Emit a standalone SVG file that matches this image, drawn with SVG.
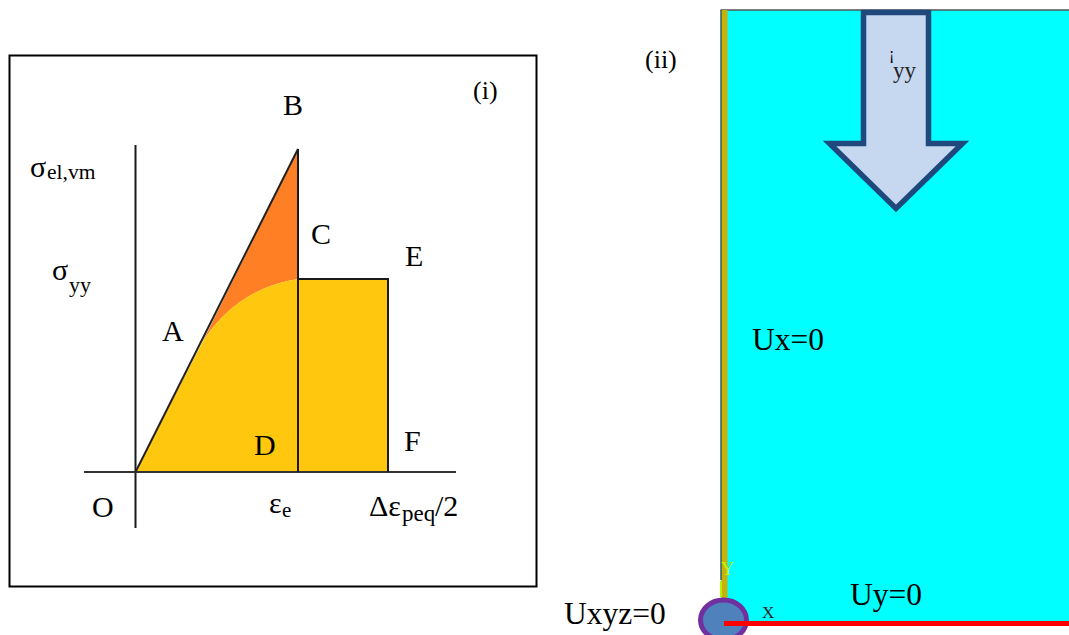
<svg xmlns="http://www.w3.org/2000/svg" width="1069" height="635" viewBox="0 0 1069 635">
<style>
text{font-family:"Liberation Serif","Times New Roman",serif;fill:#000}
.l{font-size:30px}
.n{font-size:26px}
.u{font-size:31.5px}
.a{stroke:#1a1a1a;stroke-width:2;fill:none}
</style>
<rect width="1069" height="635" fill="#fff"/>
<g id="panel-i">
<rect x="9.5" y="55.5" width="527" height="531" fill="#fff" stroke="#000" stroke-width="2"/>
<path d="M203 341L298 149V279Q238 288 203 341Z" fill="#ff7f24"/>
<path d="M135.500 472L203 341Q238 288 298 279H388V472Z" fill="#ffc80e"/>
</g>
<g id="connectors">
<line class="a" x1="135.500" y1="145" x2="135.500" y2="528"/>
<line x1="84" y1="472" x2="456" y2="472" stroke="#333" stroke-width="2"/>
<line x1="135.500" y1="472" x2="298" y2="149" stroke="#222" stroke-width="2"/>
<line class="a" x1="298" y1="149" x2="298" y2="472"/>
<path class="a" d="M298 279H388V472"/>
</g>
<g id="labels-i">
<text class="n" x="473" y="99">(i)</text>
<text class="l" x="283" y="115">B</text>
<text class="l" x="311" y="244">C</text>
<text class="l" x="405" y="266">E</text>
<text class="l" x="162" y="341">A</text>
<text class="l" x="254" y="455">D</text>
<text class="l" x="404" y="451">F</text>
<text class="l" x="92" y="517">O</text>
<text class="l" x="30" y="177">σ</text>
<text x="47" y="179" style="font-size:21.500px">el,vm</text>
<text class="l" x="52" y="280">σ</text>
<text x="69" y="292" style="font-size:22px">yy</text>
<text class="l" x="269" y="513">ε</text>
<text x="282" y="517" style="font-size:21px">e</text>
<text class="l" x="369" y="516">Δε</text>
<text x="402" y="521" style="font-size:23px">peq</text>
<text class="l" x="435" y="516">/2</text>
</g>
<g id="panel-ii">
<rect x="721" y="10" width="348" height="613" fill="#0ff"/>
<line x1="720.500" y1="10" x2="1069" y2="10" stroke="#555" stroke-width="1.500"/>
<rect x="721.500" y="10" width="6" height="590" fill="#c8b20a"/>
<line x1="721" y1="10" x2="721" y2="580" stroke="#3c5a50" stroke-width="1.500"/>
<text class="n" x="645" y="68">(ii)</text>
<text class="u" x="752" y="350">Ux=0</text>
<text class="u" x="850" y="605">Uy=0</text>
<text class="u" x="564" y="624">Uxyz=0</text>
</g>
<g id="load-arrow">
<path d="M863.500 12.500H928.500V143.500H962.500L896 208.500L829.500 143.500H863.500Z" fill="#c6d7f0" stroke="#1f497d" stroke-width="5.500"/>
<text x="889" y="59" style="font-size:16px">¡</text>
<text x="893" y="78" style="font-size:23px;fill:#222">yy</text>
</g>
<g id="support-node">
<text x="721" y="575" style="font-size:18px;fill:#c8f000">Y</text>
<rect x="720" y="581" width="2" height="16" fill="#b8f000"/>
<ellipse cx="723.500" cy="620" rx="23" ry="20" fill="#4f81bd" stroke="#7030a0" stroke-width="5"/>
<text x="762" y="618" style="font-size:17px;fill:#222">X</text>
<rect x="724" y="621" width="345" height="5" fill="#f00"/>
</g>
</svg>
